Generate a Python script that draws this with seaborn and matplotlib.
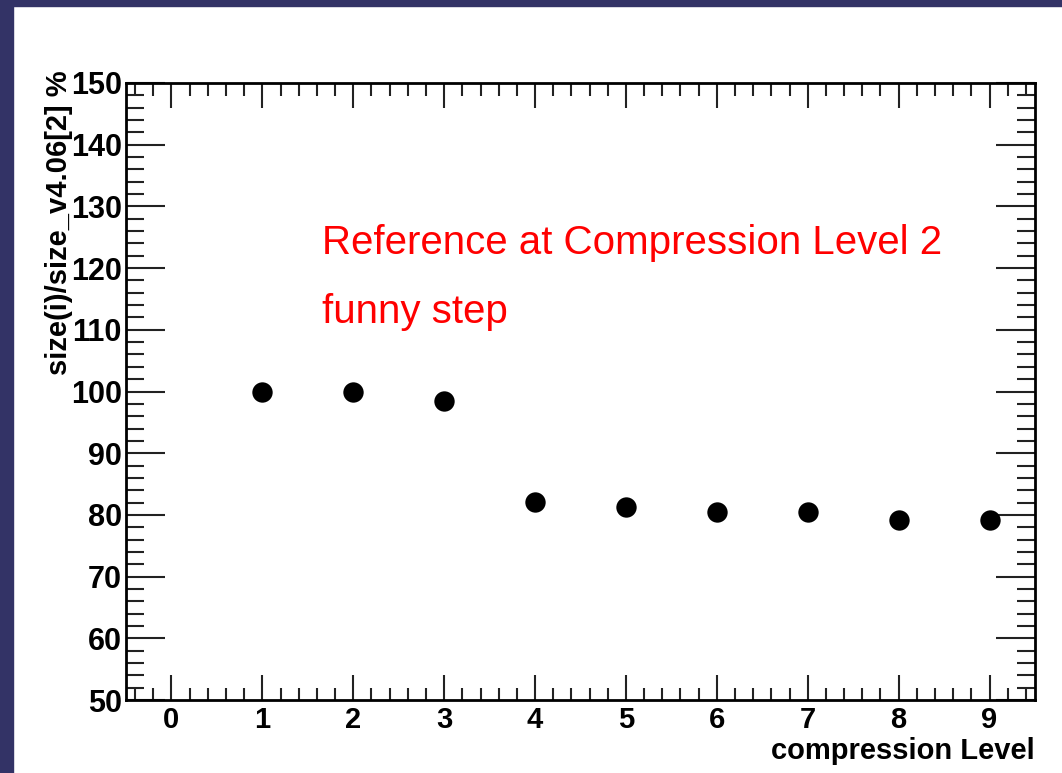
import matplotlib
matplotlib.use("Agg")
import matplotlib.pyplot as plt
from matplotlib.patches import Rectangle
from matplotlib.ticker import MultipleLocator
import seaborn as sns
import pandas as pd

levels = [1, 2, 3, 4, 5, 6, 7, 8, 9]
ratios = [100.0, 100.0, 98.5, 82.1, 81.3, 80.5, 80.5, 79.2, 79.2]
x_label = "compression Level"
y_label = "size(i)/size_v4.06[2] %"
note1 = "Reference at Compression Level 2"
note2 = "funny step"

sns.set_theme(style="ticks")
plt.rcParams['font.family'] = ['Liberation Sans', 'DejaVu Sans']

W, H = 1062, 773
fig = plt.figure(figsize=(W / 100, H / 100), dpi=100)
fig.patch.set_facecolor("white")
border = "#333366"
fig.add_artist(Rectangle((0, 0), 13 / W, 1, transform=fig.transFigure, color=border, zorder=0))
fig.add_artist(Rectangle((0, 1 - 6 / H), 1, 6 / H, transform=fig.transFigure, color=border, zorder=0))

ax = fig.add_axes([126 / W, (H - 700) / H, (1035 - 126) / W, (700 - 83) / H])

df = pd.DataFrame({"level": levels, "ratio": ratios})
sns.scatterplot(data=df, x="level", y="ratio", ax=ax, color="black", marker="o",
                s=215, edgecolor="black", linewidth=0, zorder=3)

ax.set_xlim(-0.5, 9.5)
ax.set_ylim(50, 150)
ax.xaxis.set_major_locator(MultipleLocator(1))
ax.xaxis.set_minor_locator(MultipleLocator(0.2))
ax.yaxis.set_major_locator(MultipleLocator(10))
ax.yaxis.set_minor_locator(MultipleLocator(2))

for s in ax.spines.values():
    s.set_linewidth(2)
    s.set_color("black")
    s.set_visible(True)

ax.tick_params(axis="both", which="both", direction="in", top=True, right=True,
               colors="#222222", labelcolor="black")
ax.tick_params(axis="x", which="major", length=18, width=1.5, labelsize=21, pad=4)
ax.tick_params(axis="x", which="minor", length=9, width=1.5)
ax.tick_params(axis="y", which="major", length=28, width=1.5, labelsize=22, pad=3)
ax.tick_params(axis="y", which="minor", length=13, width=1.5)
for lab in ax.get_xticklabels() + ax.get_yticklabels():
    lab.set_fontweight("bold")

ax.set_xlabel(x_label, fontsize=21, fontweight="bold", loc="right", color="black")
ax.set_ylabel(y_label, fontsize=21, fontweight="bold", loc="top", color="black")
ax.xaxis.set_label_coords(1.0, -0.060)
ax.yaxis.set_label_coords(-0.058, 1.021)

ax.text(0.2156, 0.7229, note1, transform=ax.transAxes, color="red", fontsize=29,
        va="baseline", ha="left")
ax.text(0.2156, 0.611, note2, transform=ax.transAxes, color="red", fontsize=29,
        va="baseline", ha="left")

fig.savefig("out.png", dpi=100)
